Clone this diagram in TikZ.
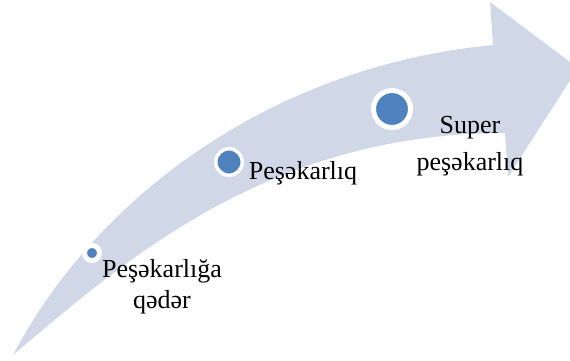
\documentclass[tikz,border=0pt]{standalone}
\usepackage{fontspec}
\setmainfont{Liberation Serif}
\usepackage{xcolor}
\definecolor{arrowBand}{HTML}{D0D8E8}
\definecolor{stageBlue}{HTML}{4F81BD}

\begin{document}
\begin{tikzpicture}[x=0.75pt, y=-0.75pt,
  stage/.style={circle, draw=white, fill=stageBlue, inner sep=0pt},
  stagetext/.style={align=center, inner sep=0pt, anchor=base}]
  \useasboundingbox (0,0) rectangle (570,360);
  \clip (0,0) rectangle (570,360);
  % curved arrow band
  \fill[arrowBand] (13,355) .. controls (100,190) and (280,65) .. (493,45)
    -- (490,2) -- (578,68) -- (508,177) -- (505,133)
    .. controls (265,133) and (120,265) .. cycle;
  % stages
  \node[stage, minimum size=11.25pt, line width=3.75pt] (pre) at (92,253) {};
  \node[stage, minimum size=19.9pt, line width=2.6pt] (pro) at (229,162) {};
  \node[stage, minimum size=27.75pt, line width=3.75pt] (super) at (392,109) {};
  % texts (base = last line)
  \node[stagetext, font=\fontsize{19.5}{23.25}\selectfont] (preText) at (162,308) {Peşəkarlığa\\qədər};
  \node[stagetext, font=\fontsize{19.5}{23.25}\selectfont] (proText) at (303,179) {Peşəkarlıq};
  \node[stagetext, font=\fontsize{19.5}{27.75}\selectfont] (superText) at (470,170) {Super\\peşəkarlıq};
\end{tikzpicture}
\end{document}
